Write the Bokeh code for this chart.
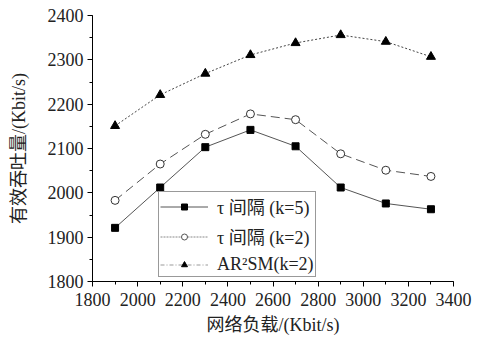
from bokeh.plotting import figure
from bokeh.models import Legend, LegendItem, ColumnDataSource, FixedTicker
from bokeh.embed import file_html
from bokeh.resources import INLINE

load = [1900, 2100, 2300, 2500, 2700, 2900, 3100, 3300]
tau_k5 = [1921, 2012, 2103, 2142, 2105, 2012, 1976, 1963]
tau_k2 = [1983, 2065, 2132, 2178, 2165, 2088, 2051, 2037]
ar2sm_k2 = [2151, 2221, 2269, 2311, 2338, 2356, 2341, 2307]
labels = ["τ 间隔 (k=5)", "τ 间隔 (k=2)", "AR²SM(k=2)"]
x_ticks = list(range(1800, 3401, 200))
y_ticks = list(range(1800, 2401, 100))

FONT = "'Liberation Serif', 'Noto Sans CJK SC'"

p = figure(width=484, height=337, output_backend="svg", toolbar_location=None,
           x_range=(1800, 3400), y_range=(1800, 2400),
           min_border_left=92, min_border_right=31, min_border_top=15, min_border_bottom=55)
p.outline_line_color = None
p.grid.visible = False
p.background_fill_color = "white"

line_col = "#555555"
src = ColumnDataSource(dict(x=load, a=tau_k5, b=tau_k2, c=ar2sm_k2))

p.line("x", "a", source=src, line_color=line_col, line_width=1)
p.scatter("x", "a", source=src, marker="square", size=7, fill_color="black", line_color="black")
p.line("x", "b", source=src, line_color=line_col, line_width=1, line_dash="9 5")
p.scatter("x", "b", source=src, marker="circle", size=8, fill_color="white", line_color="#333333")
p.line("x", "c", source=src, line_color="#444444", line_width=1, line_dash="2 2")
p.scatter("x", "c", source=src, marker="triangle", size=9, fill_color="black", line_color="black")

# legend samples (styled like reference legend), invisible NaN data
nan = float("nan")
e = ColumnDataSource(dict(x=[nan], y=[nan]))
l1 = p.line("x", "y", source=e, line_color=line_col, line_width=1)
m1 = p.scatter("x", "y", source=e, marker="square", size=6, fill_color="black", line_color="black")
l2 = p.line("x", "y", source=e, line_color="#888888", line_width=1, line_dash="2 1")
m2 = p.scatter("x", "y", source=e, marker="circle", size=7, fill_color="white", line_color="#555555")
l3 = p.line("x", "y", source=e, line_color="#999999", line_width=1, line_dash="4 2 1 2")
m3 = p.scatter("x", "y", source=e, marker="triangle", size=8, fill_color="black", line_color="black")

legend = Legend(items=[LegendItem(label=labels[0], renderers=[l1, m1]),
                       LegendItem(label=labels[1], renderers=[l2, m2]),
                       LegendItem(label=labels[2], renderers=[l3, m3])],
                location=(66, 4), glyph_width=48, glyph_height=15, label_height=22,
                spacing=4, padding=1, margin=0, label_standoff=9,
                label_text_font=FONT, label_text_font_size="18px",
                label_text_color="#222222",
                border_line_color="#333333", border_line_width=1.5,
                background_fill_alpha=1)
p.add_layout(legend, "center")

for ax in (p.xaxis[0], p.yaxis[0]):
    ax.axis_line_color = "black"
    ax.major_tick_line_color = "black"
    ax.minor_tick_line_color = "black"
    ax.major_tick_out = 5
    ax.major_tick_in = 0
    ax.minor_tick_out = 3
    ax.minor_tick_in = 0
    ax.major_label_text_font = FONT
    ax.major_label_text_font_size = "18px"
    ax.major_label_text_color = "#222222"
    ax.axis_label_text_font = FONT
    ax.axis_label_text_font_size = "18px"
    ax.axis_label_text_font_style = "normal"
    ax.axis_label_text_color = "#222222"

p.xaxis.ticker = FixedTicker(ticks=x_ticks, minor_ticks=list(range(1800, 3401, 100)))
p.yaxis.ticker = FixedTicker(ticks=y_ticks, minor_ticks=list(range(1800, 2401, 50)))
p.xaxis.axis_label = "网络负载/(Kbit/s)"
p.yaxis.axis_label = "有效吞吐量/(Kbit/s)"
p.xaxis.axis_label_standoff = 6
p.yaxis.axis_label_standoff = 16
p.xaxis.major_label_standoff = 6
p.yaxis.major_label_standoff = 4

open("out.html", "w").write(file_html(p, INLINE))
